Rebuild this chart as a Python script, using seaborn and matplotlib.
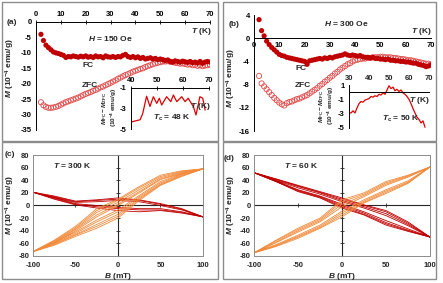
import numpy as np
import pandas as pd
import seaborn as sns
import matplotlib.pyplot as plt
from matplotlib.patches import Rectangle
from matplotlib.ticker import NullFormatter

sns.set_style("white")
plt.rcParams["font.family"] = ["Liberation Sans", "DejaVu Sans"]
plt.rcParams["font.size"] = 5.5
plt.rcParams["font.weight"] = "bold"
plt.rcParams["axes.unicode_minus"] = False
plt.rcParams["mathtext.fontset"] = "custom"
plt.rcParams["mathtext.it"] = "Liberation Sans:italic:bold"
plt.rcParams["mathtext.rm"] = "Liberation Sans:bold"
plt.rcParams["mathtext.bf"] = "Liberation Sans:bold"

RED_FC = "#C00000"
RED_ZFC = "#E04848"
RED_INS = "#E00000"
ORANGE = "#F28A3A"
GRAY = "#8C8C8C"

# ---- data: M(T) ----
T_GRID = np.arange(2, 71)
FC_150 = [-4, -6, -7.5, -8.3, -9, -9.7, -10, -10.2, -10.5, -10.8, -11.5, -11.2, -11.3, -11, -11.2,
          -11.4, -11.1, -11.3, -11, -11.4, -11.2, -11.5, -11, -11.3, -11.2, -11.6, -11, -11.3, -11.4,
          -11.2, -11.5, -11.2, -11.3, -10.8, -10.5, -11.2, -11.5, -11.2, -11.6, -11.3, -11.8, -11.5,
          -12, -11.8, -11.6, -12, -11.8, -12.2, -12, -12.2, -12.5, -12.3, -12.8, -13, -12.6, -12.8,
          -13, -12.7, -12.9, -13.1, -12.8, -13.2, -13, -13.3, -12.8, -13.4, -13, -12.8, -13]
ZFC_150 = [-26, -27, -27.5, -27.8, -27.8, -27.7, -27.5, -27.2, -26.8, -26.4, -26, -25.7, -25.4,
           -25.1, -24.8, -24.5, -24.1, -23.7, -23.3, -23, -22.7, -22.3, -22, -21.6, -21.2, -20.9,
           -20.5, -20.1, -19.7, -19.3, -18.9, -18.4, -18, -17.6, -17.2, -16.9, -16.5, -16.1, -15.8,
           -15.5, -15.2, -15, -14.6, -14.3, -14, -13.7, -13.4, -13.2, -13, -12.8, -12.8, -12.7,
           -12.9, -13, -13.2, -13.3, -13.5, -13.4, -13.6, -13.8, -13.7, -14, -13.9, -14.2, -14,
           -14.3, -14.1, -14, -13.8]
FC_300 = [3.2, 1.3, 0.4, -0.5, -1.1, -1.6, -2.0, -2.4, -2.8, -3.0, -3.1, -3.3, -3.4, -3.5, -3.6,
          -3.7, -3.8, -3.9, -4.0, -4.5, -3.9, -3.8, -3.7, -3.6, -3.5, -3.6, -3.4, -3.5, -3.3, -3.4,
          -3.2, -3.1, -3.0, -2.9, -2.7, -2.9, -3.0, -2.9, -3.0, -3.1, -3.0, -3.2, -3.3, -3.3, -3.4,
          -3.3, -3.5, -3.5, -3.6, -3.6, -3.7, -3.6, -3.8, -3.8, -3.9, -3.9, -4.0, -4.0, -4.1, -4.1,
          -4.2, -4.3, -4.3, -4.5, -4.6, -4.7, -4.9, -4.8, -4.6]
ZFC_300 = [-6.5, -7.8, -8.3, -8.8, -9.3, -9.8, -10.3, -10.7, -11.1, -11.4, -11.6, -11.2, -11.0,
           -10.9, -10.7, -10.5, -10.4, -10.2, -10.0, -9.8, -9.5, -9.2, -8.9, -8.6, -8.2, -7.9, -7.5,
           -7.2, -6.8, -6.5, -6.1, -5.8, -5.4, -5.1, -4.8, -4.5, -4.3, -4.0, -3.8, -3.7, -3.6, -3.5,
           -3.5, -3.4, -3.4, -3.3, -3.3, -3.3, -3.2, -3.2, -3.3, -3.3, -3.3, -3.4, -3.4, -3.5, -3.6,
           -3.6, -3.7, -3.8, -3.8, -3.9, -4.0, -4.1, -4.2, -4.3, -4.4, -4.4, -4.5]

# insets: M_FC - M_ZFC
INS_A_T = [40.3, 43.5, 44.5, 46, 47.3, 48.6, 49.9, 50.9, 51.8, 53.7, 55.3, 56.3, 57.6, 59.5, 60.8,
           62, 64, 65, 66.5, 67.6, 68.5]
INS_A_M = [-4.3, -4.1, -3.5, -1.8, -2.8, -1.85, -2.5, -2.0, -2.66, -1.85, -2.33, -1.68, -2.33,
           -1.85, -2.33, -2.0, -2.82, -3.63, -1.85, -2.0, -3.15]
INS_B_T = np.arange(30, 69)
INS_B_M = [-2.9, -2.9, -2.6, -2.9, -2.2, -1.6, -1.3, -1.4, -1.1, -1.0, -0.9, -0.6, -0.7, -0.5,
           -0.6, -0.3, -0.4, -0.1, -0.3, 0.3, 0.9, 0.5, 0.7, 0.2, 0.4, 0.1, 0.3, -0.1, -0.3, -0.6,
           -1.0, -1.6, -2.3, -2.9, -3.5, -3.8, -4.3, -4.0, -4.9]

# ---- data: hysteresis loops, M at B_FIELD for upper / lower branches ----
B_FIELD = [-100, -75, -50, -25, 0, 25, 50, 75, 100]
C_ORANGE_UP = [[-73, -59, -40, -18, 0, 20, 41, 51, 58],
               [-73, -58, -38, -15, 2, 22, 42, 52, 58],
               [-73, -57, -37, -11, 5, 25, 44, 53, 58],
               [-73, -56, -35, -8, 8, 28, 46, 54, 58],
               [-73, -55, -33, -5, 10, 30, 48, 55, 58]]
C_ORANGE_LO = [[-73, -59, -42, -23, -7, 16, 38, 50, 58],
               [-73, -60, -44, -26, -10, 14, 36, 49, 58],
               [-73, -61, -46, -30, -14, 12, 34, 48, 58],
               [-73, -62, -47, -33, -17, 10, 33, 47, 58],
               [-73, -63, -49, -36, -20, 8, 32, 46, 58]]
C_RED_UP = [[21, 13, 5, 6, 8, 6, 0, -7, -18],
            [21, 14, 6, 8, 10, 8, 2, -6, -18],
            [21, 15, 7, 9, 12, 9, 3, -5, -18]]
C_RED_LO = [[21, 12, 3, 0, -3, -5, -5, -10, -18],
            [21, 11, 2, -2, -5, -7, -7, -11, -18],
            [21, 10, 1, -4, -8, -10, -8, -12, -18]]
D_RED_UP = [[52, 40, 28, 18, 6, -4, -16, -32, -50],
            [52, 41, 30, 20, 8, -2, -13, -30, -50],
            [52, 42, 31, 21, 10, 0, -10, -28, -50],
            [52, 42, 32, 22, 12, 1, -8, -26, -50]]
D_RED_LO = [[52, 39, 25, 15, 2, -10, -24, -37, -50],
            [52, 38, 24, 14, 0, -12, -27, -39, -50],
            [52, 38, 23, 13, -2, -14, -29, -40, -50],
            [52, 38, 22, 12, -4, -15, -31, -41, -50]]
D_ORANGE_UP = [[-75, -59, -42, -26, -2, 14, 32, 45, 61],
               [-75, -58, -40, -24, 2, 16, 34, 46, 61],
               [-75, -56, -38, -22, 6, 18, 36, 47, 61],
               [-75, -55, -36, -20, 9, 20, 38, 48, 61]]
D_ORANGE_LO = [[-75, -62, -47, -31, -9, 9, 25, 39, 61],
               [-75, -63, -49, -33, -12, 7, 23, 37, 61],
               [-75, -64, -50, -35, -15, 5, 21, 36, 61],
               [-75, -65, -52, -36, -18, 4, 19, 35, 61]]

W, H = 443, 283
fig = plt.figure(figsize=(W / 100, H / 100), dpi=100)


def px_axes(x0, y0, x1, y1):
    return fig.add_axes([x0 / W, 1 - y1 / H, (x1 - x0) / W, (y1 - y0) / H])


def fig_text(x, y, s, **kw):
    fig.text(x / W, 1 - y / H, s, **kw)


def loop_frame(upper, lower):
    rows = []
    for k, (up, lo) in enumerate(zip(upper, lower)):
        path_b = B_FIELD[::-1] + B_FIELD
        path_m = up[::-1] + lo
        for i, (b, m) in enumerate(zip(path_b, path_m)):
            rows.append({"loop": k, "step": i, "B": b, "M": m})
    return pd.DataFrame(rows)


# panel boxes
for x0, y0, x1, y1 in [(2, 2, 218, 141), (223, 2, 436, 141), (2, 142, 218, 279), (223, 142, 436, 279)]:
    fig.patches.append(Rectangle((x0 / W, 1 - y1 / H), (x1 - x0) / W, (y1 - y0) / H,
                                 transform=fig.transFigure, fill=False, ec=GRAY, lw=1.0))

tick_kw = dict(direction="inout", length=3, width=0.6, pad=1.5, labelsize=5.5, colors="black")

# ---------- (a) ----------
ax = px_axes(36, 22, 210, 130)
sns.scatterplot(x=T_GRID, y=ZFC_150, ax=ax, marker="o", s=14, facecolors="none",
                edgecolor=RED_ZFC, linewidth=0.6)
sns.scatterplot(x=T_GRID, y=FC_150, ax=ax, marker="o", s=14, color=RED_FC, edgecolor="none")
ax.set_xlim(0, 70)
ax.set_ylim(-35, 0)
ax.set_xticks(range(0, 71, 10))
ax.set_yticks(range(-35, 1, 5))
ax.xaxis.tick_top()
ax.tick_params(**tick_kw)
for s in ["right", "bottom"]:
    ax.spines[s].set_visible(False)
for s in ["left", "top"]:
    ax.spines[s].set_color("black")
    ax.spines[s].set_linewidth(0.7)
ax.patch.set_alpha(0)
ax.text(29.8, -5.2, "$H$ = 150 Oe", ha="center", va="center", fontsize=6)
ax.text(66.5, -3.2, "$T$ (K)", ha="center", va="center", fontsize=6)
ax.text(21, -14, "FC", ha="center", va="center", fontsize=6)
ax.text(21.7, -20.7, "ZFC", ha="center", va="center", fontsize=6)

ins = px_axes(131, 88, 209, 129)
sns.lineplot(x=INS_A_T, y=INS_A_M, ax=ins, color=RED_INS, lw=0.9, estimator=None, sort=False)
ins.set_xlim(40, 70)
ins.set_ylim(-5, -1)
ins.set_xticks([40, 50, 60, 70])
ins.set_yticks([-5, -3, -1])
ins.xaxis.tick_top()
ins.tick_params(**tick_kw)
for s in ["right", "bottom"]:
    ins.spines[s].set_visible(False)
for s in ["left", "top"]:
    ins.spines[s].set_color("black")
    ins.spines[s].set_linewidth(0.7)
ins.patch.set_alpha(0)
ins.text(66.5, -2.85, "$T$ (K)", ha="center", va="center", fontsize=6)
ins.text(55.8, -3.9, "$T_{\\rm c}$ = 48 K", ha="center", va="center", fontsize=6)
fig_text(110, 108, "$M_{\\rm FC} - M_{\\rm ZFC}$\n(10$^{-4}$ emu/g)", rotation=90,
         ha="center", va="center", fontsize=4.6, linespacing=0.95)
fig_text(10, 68, "$M$ (10$^{-4}$ emu/g)", rotation=90, ha="center", va="center", fontsize=6)
fig_text(12, 22, "(a)", ha="center", va="center", fontsize=6)

# ---------- (b) ----------
ax = px_axes(254, 15, 431, 131)
sns.scatterplot(x=T_GRID, y=ZFC_300, ax=ax, marker="o", s=14, facecolors="none",
                edgecolor=RED_ZFC, linewidth=0.6)
sns.scatterplot(x=T_GRID, y=FC_300, ax=ax, marker="o", s=14, color=RED_FC, edgecolor="none")
ax.set_xlim(0, 70)
ax.set_ylim(-16, 4)
ax.set_xticks(range(0, 71, 10))
ax.set_yticks(range(-16, 5, 4))
ax.spines["bottom"].set_position(("data", 0))
ax.tick_params(**tick_kw)
for s in ["right", "top"]:
    ax.spines[s].set_visible(False)
for s in ["left", "bottom"]:
    ax.spines[s].set_color("black")
    ax.spines[s].set_linewidth(0.7)
ax.patch.set_alpha(0)
ax.text(36.4, 2.45, "$H$ = 300 Oe", ha="center", va="center", fontsize=6)
ax.text(66, 1.1, "$T$ (K)", ha="center", va="center", fontsize=6)
ax.text(18.6, -5.3, "FC", ha="center", va="center", fontsize=6)
ax.text(19.4, -8.1, "ZFC", ha="center", va="center", fontsize=6)

ins = px_axes(349, 85, 429, 128)
sns.lineplot(x=INS_B_T, y=INS_B_M, ax=ins, color=RED_INS, lw=0.9, estimator=None, sort=False)
ins.set_xlim(30, 70)
ins.set_ylim(-5, 1)
ins.set_xticks([30, 40, 50, 60, 70])
ins.set_yticks([-5, -3, -1, 1])
ins.spines["bottom"].set_position(("data", 0))
ins.tick_params(**tick_kw)
ins.xaxis.set_major_formatter(NullFormatter())
for s in ["right", "top"]:
    ins.spines[s].set_visible(False)
for s in ["left", "bottom"]:
    ins.spines[s].set_color("black")
    ins.spines[s].set_linewidth(0.7)
top = ins.secondary_xaxis("top")
top.set_xticks([30, 40, 50, 60, 70])
top.tick_params(length=0, pad=2, labelsize=5.5)
top.spines["top"].set_visible(False)
ins.patch.set_alpha(0)
ins.text(65, -1.1, "$T$ (K)", ha="center", va="center", fontsize=6)
ins.text(56, -3.74, "$T_{\\rm c}$ = 50 K", ha="center", va="center", fontsize=6)
fig_text(327, 106, "$M_{\\rm FC} - M_{\\rm ZFC}$\n(10$^{-4}$ emu/g)", rotation=90,
         ha="center", va="center", fontsize=4.6, linespacing=0.95)
fig_text(231, 78, "$M$ (10$^{-4}$ emu/g)", rotation=90, ha="center", va="center", fontsize=6)
fig_text(234, 24, "(b)", ha="center", va="center", fontsize=6)


# ---------- (c), (d) ----------
def hyst_panel(box, red_up, red_lo, or_up, or_lo, label, temp_text, text_b, ylab_x):
    ax = px_axes(*box)
    sns.lineplot(data=loop_frame(red_up, red_lo), x="B", y="M", units="loop", estimator=None,
                 sort=False, color=RED_FC, lw=0.6, ax=ax)
    sns.lineplot(data=loop_frame(or_up, or_lo), x="B", y="M", units="loop", estimator=None,
                 sort=False, color=ORANGE, lw=0.6, ax=ax)
    ax.set_xlim(-100, 100)
    ax.set_ylim(-80, 80)
    ax.set_xticks([-100, -50, 0, 50, 100])
    ax.set_yticks(range(-80, 81, 20))
    ax.set_xlabel("")
    ax.set_ylabel("")
    ax.tick_params(length=0, pad=2.5, labelsize=5.5)
    ax.tick_params(axis="x", pad=4.5)
    for s in ax.spines.values():
        s.set_color(GRAY)
        s.set_linewidth(0.7)
    sy = ax.secondary_yaxis(0.5)
    sy.set_yticks(range(-80, 81, 20))
    sy.yaxis.set_major_formatter(NullFormatter())
    sy.tick_params(direction="inout", length=3, width=0.6)
    sy.spines["left"].set_linewidth(0.6)
    sx = ax.secondary_xaxis(0.5)
    sx.set_xticks([-100, -50, 0, 50, 100])
    sx.xaxis.set_major_formatter(NullFormatter())
    sx.tick_params(direction="inout", length=3, width=0.6)
    sx.spines["bottom"].set_linewidth(0.6)
    ax.text(text_b, 64, temp_text, ha="left", va="center", fontsize=6)
    x0, y0, x1, y1 = box
    fig_text((x0 + x1) / 2, 276, "$B$ (mT)", ha="center", va="center", fontsize=6)
    fig_text(ylab_x, 205, "$M$ (10$^{-4}$ emu/g)", rotation=90, ha="center", va="center", fontsize=6)
    fig_text(label[1], label[2], label[0], ha="center", va="center", fontsize=6)
    return ax


hyst_panel((33, 155, 203, 256), C_RED_UP, C_RED_LO, C_ORANGE_UP, C_ORANGE_LO,
           ("(c)", 10, 155), "$T$ = 300 K", -76, 10)
hyst_panel((254, 155, 430, 256), D_RED_UP, D_RED_LO, D_ORANGE_UP, D_ORANGE_LO,
           ("(d)", 229, 158), "$T$ = 60 K", -66, 231)

fig.savefig("out.png", dpi=100)
